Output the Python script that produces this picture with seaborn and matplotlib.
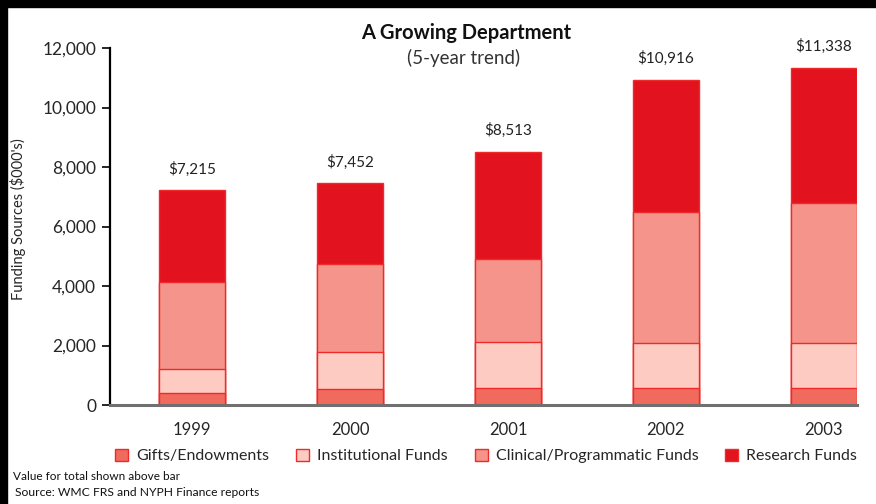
import matplotlib
matplotlib.use("Agg")
import matplotlib.pyplot as plt
from matplotlib.patches import Patch, Rectangle
import seaborn as sns
import pandas as pd
import numpy as np

years = ["1999", "2000", "2001", "2002", "2003"]
gifts = [400, 550, 570, 570, 570]
institutional = [800, 1230, 1550, 1510, 1510]
clinical = [2930, 2960, 2780, 4400, 4700]
research = [3085, 2712, 3613, 4436, 4558]
totals = [7215, 7452, 8513, 10916, 11338]
total_labels = ["$7,215", "$7,452", "$8,513", "$10,916", "$11,338"]

series_names = ["Gifts/Endowments", "Institutional Funds",
                "Clinical/Programmatic Funds", "Research Funds"]
series_values = [gifts, institutional, clinical, research]
colors = ["#f06a5e", "#fdcbc2", "#f5948a", "#e2121e"]
edge = "#ee2a2a"

sns.set_style("white")
plt.rcParams["font.family"] = ["Lato", "DejaVu Sans"]

fig = plt.figure(figsize=(8.76, 5.04), dpi=100)
fig.patch.set_facecolor("white")
# black frame strips along top and left edge
fig.patches.append(Rectangle((0, 0), 7 / 876, 1, transform=fig.transFigure,
                             color="black", zorder=10))
fig.patches.append(Rectangle((0, 1 - 7 / 504), 1, 7 / 504, transform=fig.transFigure,
                             color="black", zorder=10))

ax = fig.add_axes([110 / 876, 99 / 504, 747 / 876, 357 / 504])

# stacked bars: draw cumulative heights, tallest first
cum = np.cumsum(np.array(series_values), axis=0)
for i in range(len(series_names) - 1, -1, -1):
    df = pd.DataFrame({"year": years, "value": cum[i]})
    sns.barplot(data=df, x="year", y="value", color=colors[i], width=0.42,
                edgecolor=edge, linewidth=1, saturation=1, ax=ax)

for i, lab in enumerate(total_labels):
    ax.annotate(lab, (i, totals[i]), xytext=(0, 10), textcoords="offset points",
                ha="center", va="bottom", fontsize=11, color="#222222")

ax.set_ylim(0, 12000)
ax.set_xlim(-0.52, 4.21)
ax.set_yticks(range(0, 12001, 2000))
ax.set_yticklabels([f"{v:,}" for v in range(0, 12001, 2000)], fontsize=12.5)
ax.set_xticks(range(len(years)))
ax.set_xticklabels(years, fontsize=12)
ax.tick_params(axis="y", length=6, width=1.2, color="black", pad=4, left=True)
ax.tick_params(axis="x", length=0, pad=12)
ax.set_xlabel("")
ax.set_ylabel("Funding Sources ($000's)", fontsize=10.5)
ax.yaxis.set_label_coords(-0.113, 0.52)

for s in ["top", "right"]:
    ax.spines[s].set_visible(False)
ax.spines["left"].set_color("black")
ax.spines["left"].set_linewidth(1.6)
ax.spines["bottom"].set_color("#707070")
ax.spines["bottom"].set_linewidth(2.2)

fig.text(0.532, 0.935, "A Growing Department", ha="center", va="center",
         fontsize=14.5, fontweight="bold", color="#111111")
fig.text(0.529, 0.885, "(5-year trend)", ha="center", va="center",
         fontsize=13.5, color="#333333")

handles = [Patch(facecolor=c, edgecolor=edge, linewidth=1) for c in colors]
fig.legend(handles, series_names, loc="center", bbox_to_anchor=(0.555, 0.095),
           ncol=4, frameon=False, fontsize=11.5, handlelength=0.8,
           handleheight=0.8, handletextpad=0.5, columnspacing=1.7)

fig.text(13 / 876, 1 - 477 / 504, "Value for total shown above bar",
         fontsize=8.5, va="center", color="#111111")
fig.text(15 / 876, 1 - 493 / 504, "Source: WMC FRS and NYPH Finance reports",
         fontsize=8.7, va="center", color="#111111")

fig.savefig("out.png", dpi=100, facecolor="white")
